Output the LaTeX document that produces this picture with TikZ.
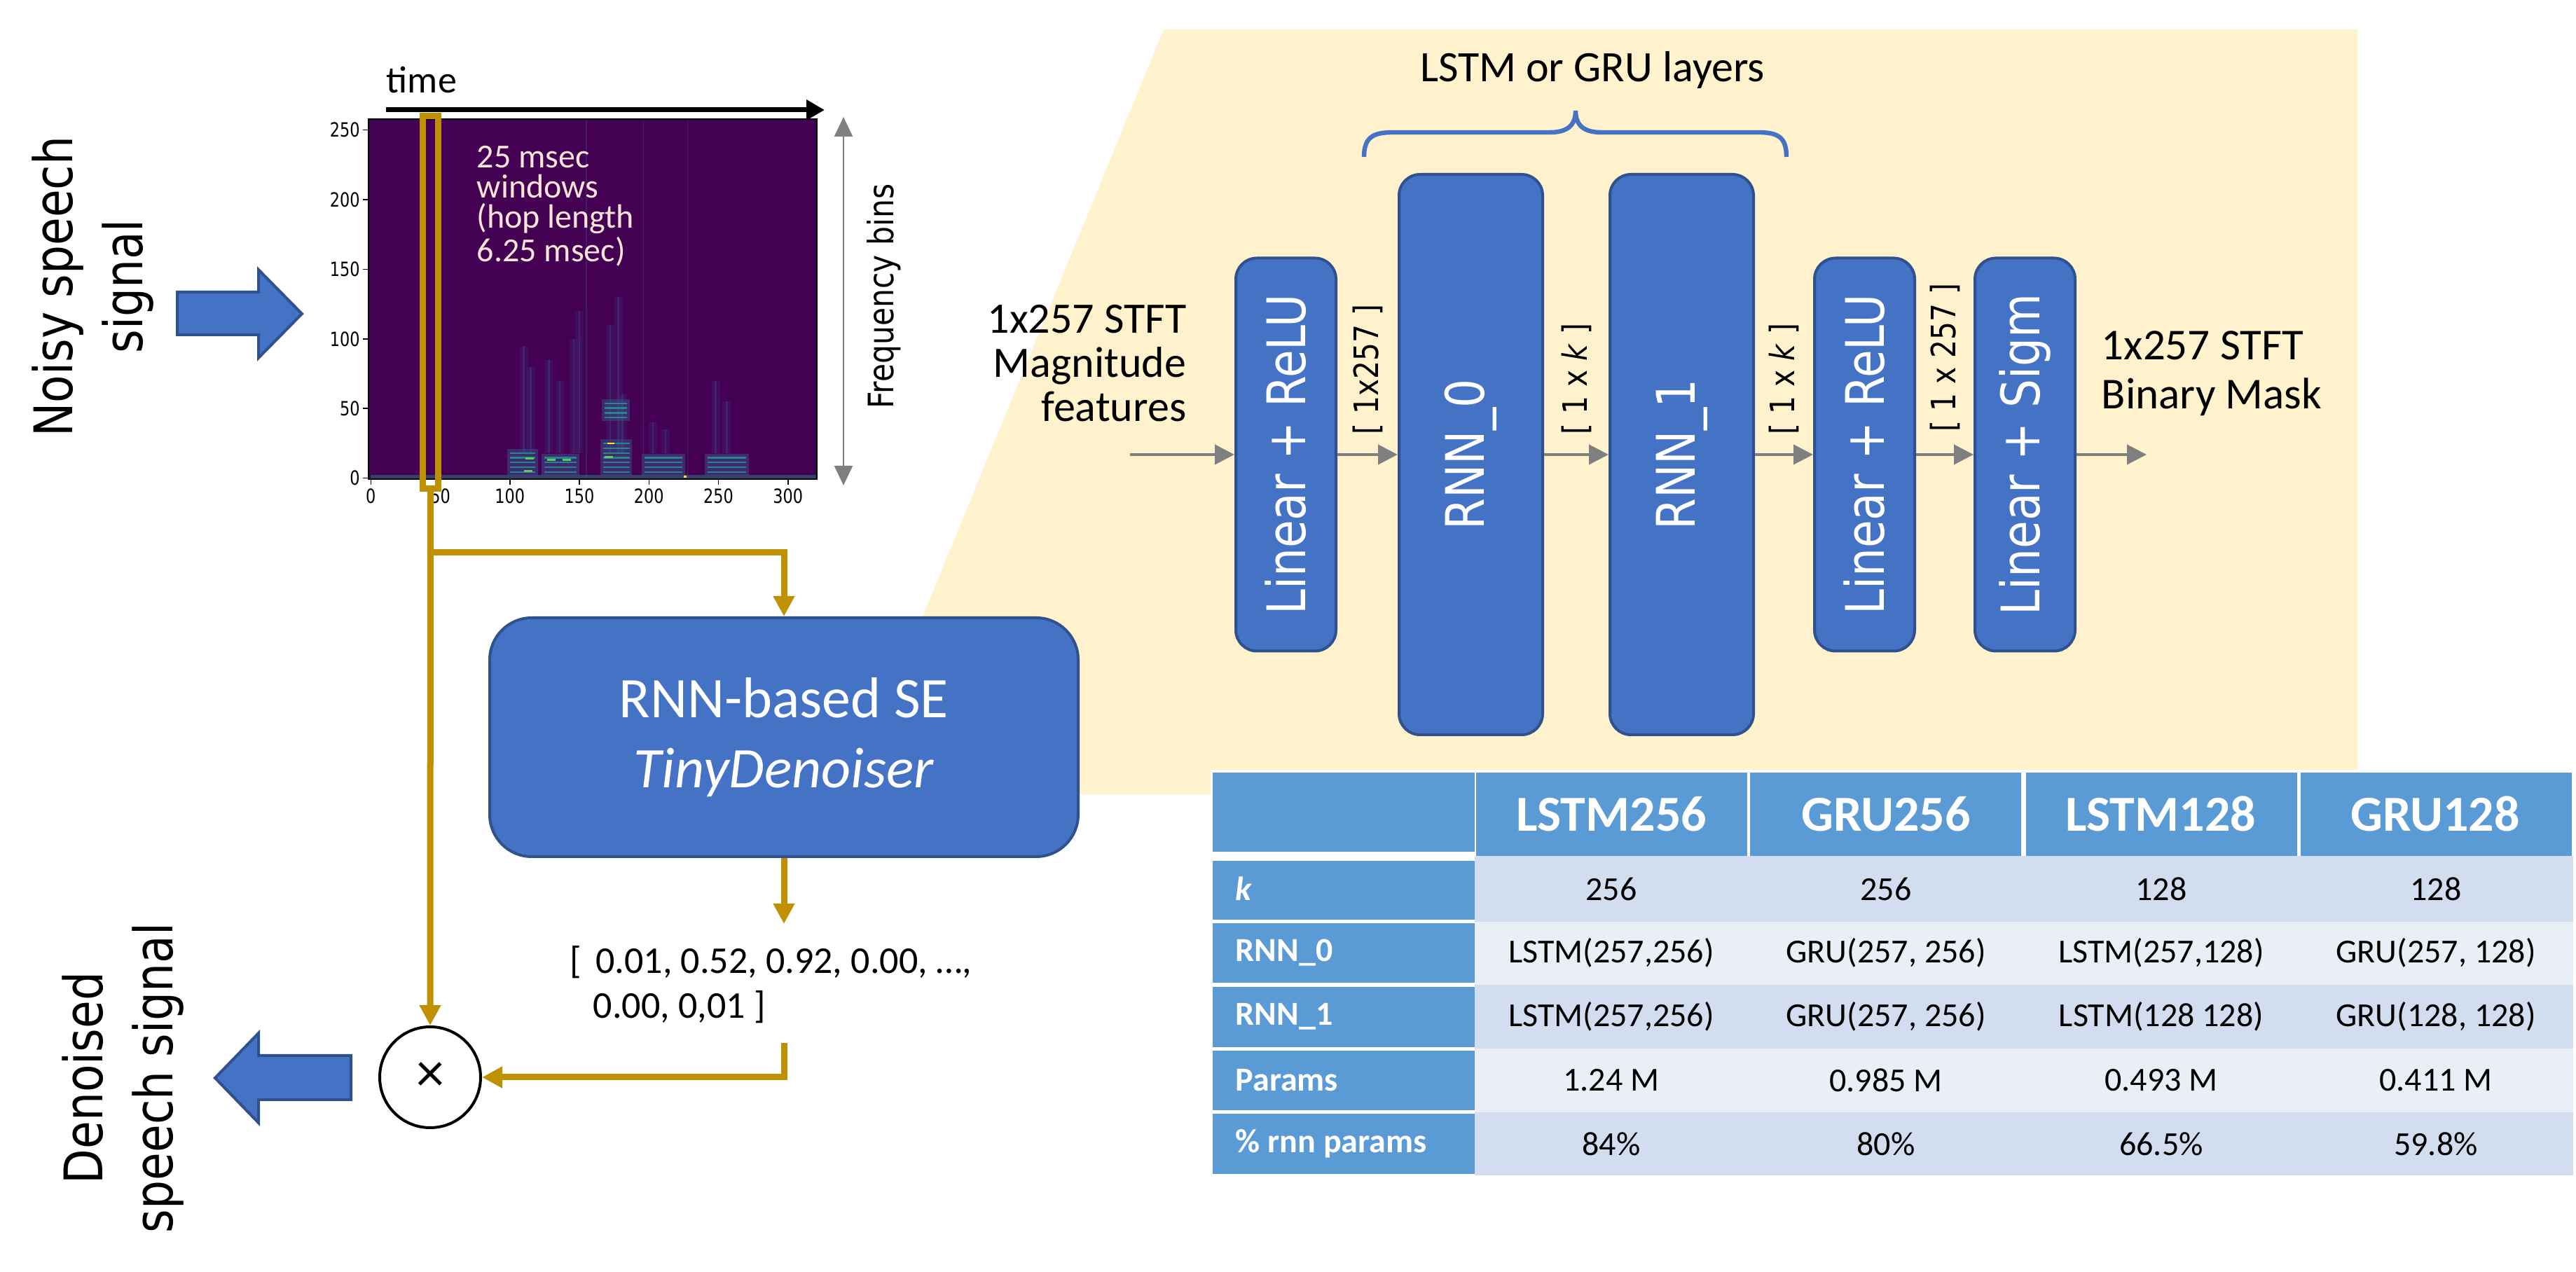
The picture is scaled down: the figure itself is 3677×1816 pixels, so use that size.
\documentclass[tikz,border=0pt]{standalone}
\usepackage{fontspec}
\setmainfont{Carlito}
\newfontfamily\vfont[FakeStretch=0.85]{DejaVu Sans}
\newfontfamily\tickfont[FakeStretch=0.8]{DejaVu Sans}
\usetikzlibrary{arrows.meta,positioning,calc}

\definecolor{boxblue}{HTML}{4472C4}
\definecolor{boxedge}{HTML}{2F528F}
\definecolor{gold}{HTML}{BF9000}
\definecolor{cream}{HTML}{FFF2CC}
\definecolor{peach}{HTML}{FBE5D6}
\definecolor{tabhead}{HTML}{5B9BD5}
\definecolor{tabdark}{HTML}{D2DEEF}
\definecolor{tablight}{HTML}{EAEFF7}
\definecolor{arrowgray}{HTML}{7F7F7F}
\definecolor{vir0}{HTML}{440154}
\definecolor{vir1}{HTML}{3B528B}
\definecolor{vir2}{HTML}{21918C}
\definecolor{vir3}{HTML}{5EC962}
\definecolor{vir4}{HTML}{FDE725}

\tikzset{
	block/.style={rectangle,rounded corners=7.5pt,fill=boxblue,draw=boxedge,line width=1pt,
		text=white,inner sep=0pt,minimum width=35.75pt,minimum height=140.25pt,
		font=\vfont\fontsize{19}{22}\selectfont},
	rnnblock/.style={block,minimum width=51.25pt,minimum height=200pt},
	sebox/.style={rectangle,rounded corners=15pt,fill=boxblue,draw=boxedge,line width=1pt,
		text=white,align=center,minimum width=210pt,minimum height=85.25pt,
		font=\fontsize{20.5}{25}\selectfont},
	flow/.style={draw=arrowgray,line width=1pt,-{Triangle[length=7pt,width=7pt]}},
	goldflow/.style={draw=gold,line width=2.25pt,-{Triangle[length=7.25pt,width=7.25pt]}},
	dimlabel/.style={rotate=90,anchor=west,inner sep=0pt,font=\vfont\fontsize{12}{14}\selectfont},
	sidelabel/.style={rotate=90,align=center,inner sep=0pt,font=\vfont\fontsize{19}{25}\selectfont},
	bigarrow/.style={fill=boxblue,draw=boxedge,line width=1pt},
	tick/.style={inner sep=0pt,font=\tickfont\fontsize{7}{8}\selectfont},
	hdr/.style={text=white,font=\fontsize{18}{20}\selectfont\bfseries},
	rowlab/.style={text=white,anchor=west,inner sep=0pt,font=\fontsize{12}{14}\selectfont\bfseries},
	cell/.style={font=\fontsize{12}{14}\selectfont},
}

\begin{document}
\begin{tikzpicture}[x=0.25pt,y=-0.25pt]
\useasboundingbox (0,0) rectangle (3677,1816);
\fill[white] (0,0) rectangle (3677,1816);

% zoom area behind the network
\fill[cream] (1661,42) -- (3365,42) -- (3365,1134) -- (1213,1134) -- cycle;

% spectrogram
\begin{scope}[shift={(529.3,682.7)},xscale=1.985,yscale=-1.988]
	\fill[vir0] (-1.5,-0.5) rectangle (320.5,258);
	\foreach \sx/\sh in {110/95,115/80,128/85,136/70,146/100,150/120,172/110,178/130,181/60,203/40,212/35,248/70,256/55}{
		\draw[vir1,line width=3pt,opacity=0.15] (\sx,18) -- (\sx,\sh);
		\draw[vir1,line width=0.6pt,opacity=0.35] (\sx,18) -- (\sx,\sh);
	}
	\foreach \sx in {155,196,228}
		\draw[vir1,line width=0.3pt,opacity=0.35] (\sx,0) -- (\sx,257);
	\fill[vir2,opacity=0.45] (0,0) rectangle (320,2.5);
	\foreach \xa/\xb/\ba/\n in {100/118/3/5,125/148/3/4,167/186/3/7,168/184/42/4,197/224/3/4,242/270/3/4}{
		\fill[vir1,opacity=0.5] (\xa-2,\ba-1) rectangle (\xb+2,{\ba+\n*3.4+1});
		\foreach \s in {1,...,\n}
			\fill[vir2,opacity=0.9] (\xa,{\ba+(\s-1)*3.4+0.9}) rectangle (\xb,{\ba+(\s-1)*3.4+2.1});
	}
	\foreach \px/\py in {113/5,114/14,130/13,141/13,171/15}
		\fill[vir3] (\px-3,\py-0.7) rectangle (\px+3,\py+0.7);
	\fill[vir4] (170,24.3) rectangle (175,25.7);
	\fill[vir4] (225,0.3) rectangle (227,1.7);
	\draw[line width=0.5pt] (-1.5,-0.5) rectangle (320.5,258);
	\foreach \t in {0,50,...,250}{
		\draw[line width=0.4pt] (-1.5,\t) -- (-5.5,\t);
		\node[tick,anchor=east] (yl\t) at (-7.5,\t) {\t};
	}
	\foreach \t in {0,50,...,300}{
		\draw[line width=0.4pt] (\t,-0.5) -- (\t,-4.5);
		\node[tick,anchor=north] (xl\t) at (\t,-7) {\t};
	}
\end{scope}

% time and frequency axes
\coordinate (t0) at (551,157);
\coordinate (t1) at (1177,157);
\draw[line width=1.75pt,-{Triangle[length=6.5pt,width=7pt]}] (t0) -- (t1);
\node[anchor=south west,inner sep=0pt,font=\fontsize{13.5}{15}\selectfont] (timelab) at (551,134) {time};
\coordinate (f0) at (1204,167);
\coordinate (f1) at (1204,693);
\draw[arrowgray,line width=0.6pt,{Triangle[length=7pt,width=6.5pt]}-{Triangle[length=7pt,width=6.5pt]}] (f0) -- (f1);
\node[rotate=90,font=\vfont\fontsize{12.5}{14}\selectfont] (freqlab) at (1262,423) {Frequency bins};
\node[anchor=north west,align=left,inner sep=0pt,text=peach,font=\fontsize{12}{10.75}\selectfont] (winlab) at (680,208)
	{25 msec\\windows\\(hop length\\6.25 msec)};
\node[draw=gold,line width=2.25pt,inner sep=0pt,minimum width=5.5pt,minimum height=133pt] (win) at (614.5,431.5) {};

% input and output
\node[sidelabel] (noisy) at (133,409) {Noisy speech\\signal};
\filldraw[bigarrow] (253,417) -- (369,417) -- (369,385) -- (431,448) -- (369,511) -- (369,478) -- (253,478) -- cycle;
\node[sidelabel] (denoised) at (176,1539) {Denoised\\speech signal};
\filldraw[bigarrow] (501,1507) -- (369,1507) -- (369,1475) -- (307,1539) -- (369,1603) -- (369,1570) -- (501,1570) -- cycle;

% denoiser and mask
\node[sebox] (se) at (1119,1052.5) {RNN-based SE\\\textit{TinyDenoiser}};
\node[anchor=north west,align=left,inner sep=0pt,font=\fontsize{13.5}{16}\selectfont] (maskvec) at (813,1350)
	{[\hspace{5pt}0.01, 0.52, 0.92, 0.00, …,\\\hspace*{8.25pt}0.00, 0,01 ]};
\node[circle,draw,line width=1pt,minimum size=36pt,inner sep=0pt,font=\fontsize{20}{20}\selectfont] (mult) at (614,1538) {×};

\coordinate (split) at (614.5,789);
\coordinate (maskin) at (1119,1319);
\coordinate (maskout) at (1119,1489);
\draw[goldflow] (win.south) -- (mult.north);
\draw[goldflow] (split) -| (se.north);
\draw[goldflow] (se.south) -- (maskin);
\draw[goldflow] (maskout) |- (mult.east);

% network
\node[block] (lin1) at (1835.5,649) {\rotatebox{90}{Linear + ReLU}};
\node[rnnblock,right=21.5pt of lin1] (rnn0) {\rotatebox{90}{RNN\_0}};
\node[rnnblock,right=23pt of rnn0] (rnn1) {\rotatebox{90}{RNN\_1}};
\node[block,right=20.75pt of rnn1] (lin2) {\rotatebox{90}{Linear + ReLU}};
\node[block,right=20.5pt of lin2] (sig) {\rotatebox{90}{Linear + Sigm}};

\draw[flow] ([xshift=-37.25pt]lin1.west) -- (lin1.west);
\draw[flow] (lin1) -- (rnn0);
\draw[flow] (rnn0) -- (rnn1);
\draw[flow] (rnn1) -- (lin2);
\draw[flow] (lin2) -- (sig);
\draw[flow] (sig.east) -- ++(25pt,0);

\node[dimlabel] (d1) at ([yshift=7pt]$(lin1.east)!0.5!(rnn0.west)$) {[ 1x257 ]};
\node[dimlabel] (d2) at ([yshift=7pt]$(rnn0.east)!0.5!(rnn1.west)$) {[ 1 x \textit{k} ]};
\node[dimlabel] (d3) at ([yshift=7pt]$(rnn1.east)!0.5!(lin2.west)$) {[ 1 x \textit{k} ]};
\node[dimlabel] (d4) at ([yshift=8pt]$(lin2.east)!0.5!(sig.west)$) {[ 1 x 257 ]};

\node[anchor=east,align=right,inner sep=0pt,font=\fontsize{15.5}{15.75}\selectfont] (inp) at (1694,519)
	{1x257 STFT\\Magnitude\\features};
\node[anchor=west,align=left,inner sep=0pt,font=\fontsize{15.75}{17.5}\selectfont] (outp) at (2999,533)
	{1x257 STFT\\Binary Mask};

\draw[boxblue,line width=1.6pt] (1947,224) .. controls (1947,196) and (1960,189) .. (1988,189) -- (2212,189)
	.. controls (2236,189) and (2249,180) .. (2249,158) .. controls (2249,180) and (2262,189) .. (2286,189)
	-- (2510,189) .. controls (2538,189) and (2550,196) .. (2550,224);
\node[font=\fontsize{15.5}{17}\selectfont] (layers) at (2273,100) {LSTM or GRU layers};

% table
\fill[white] (1728,1099) rectangle (3677,1682);
\foreach \ra/\rb/\col in {1222/1316/tabdark,1316/1406/tablight,1406/1497/tabdark,1497/1588/tablight,1588/1678/tabdark}
	\fill[\col] (2105,\ra) rectangle (3673,\rb);
\fill[tabhead] (1731,1103) rectangle (2105,1216);
\foreach \xa/\xb in {2107/2494,2498/2885,2892/3279,3284/3671}
	\fill[tabhead] (\xa,1103) rectangle (\xb,1222);
\foreach \ra/\rb in {1229/1313,1318/1403,1409/1495,1500/1585,1590/1676}
	\fill[tabhead] (1731,\ra) rectangle (2105,\rb);

\foreach \name [count=\i] in {LSTM256,GRU256,LSTM128,GRU128}
	\node[hdr] (hd\i) at ({2300+(\i-1)*392},1162) {\name};
\foreach \lab/\va/\vb/\vc/\vd [count=\ri] in {
	{\textit{k}}/256/256/128/128,
	RNN\_0/{LSTM(257,256)}/{GRU(257, 256)}/{LSTM(257,128)}/{GRU(257, 128)},
	RNN\_1/{LSTM(257,256)}/{GRU(257, 256)}/{LSTM(128 128)}/{GRU(128, 128)},
	Params/1.24 M/0.985 M/0.493 M/0.411 M,
	{\% rnn params}/84\%/80\%/66.5\%/59.8\%}{
	\node[rowlab] (rl\ri) at (1763,{1269+(\ri-1)*91}) {\lab};
	\node[cell] (c\ri a) at (2300,{1269+(\ri-1)*91}) {\va};
	\node[cell] (c\ri b) at (2692,{1269+(\ri-1)*91}) {\vb};
	\node[cell] (c\ri c) at (3085,{1269+(\ri-1)*91}) {\vc};
	\node[cell] (c\ri d) at (3477,{1269+(\ri-1)*91}) {\vd};
}
\end{tikzpicture}
\end{document}
